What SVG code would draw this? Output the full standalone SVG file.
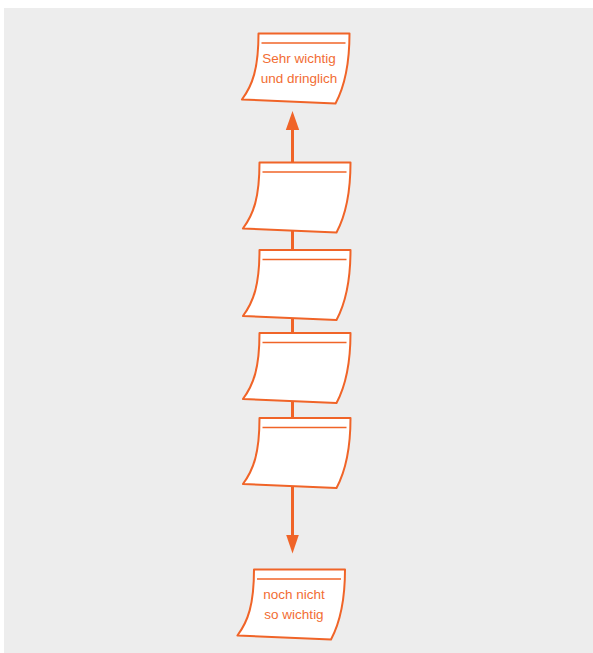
<svg xmlns="http://www.w3.org/2000/svg" xmlns:xlink="http://www.w3.org/1999/xlink" width="593" height="653" viewBox="0 0 593 653">
  <style>
    .sheet { fill: #ffffff; stroke: #f06428; stroke-width: 2; stroke-linejoin: round; }
    .rule { stroke: #f06428; stroke-width: 1.4; }
    .link { stroke: #f06428; stroke-width: 3; fill: none; }
    .head { fill: #f06428; }
    .label { font-family: "Liberation Sans", Arial, sans-serif; font-size: 13.5px; fill: #f26d33; text-anchor: middle; }
  </style>
  <defs>
    <!-- curled sticky note, origin at its top-left corner -->
    <g id="note">
      <path class="sheet" d="M0,0 L91,0 C91,35 85,55 77,70 L-16.6,66 C-6,52 0,35 0,0 Z"/>
      <line class="rule" x1="3" y1="9.5" x2="87" y2="9.5"/>
    </g>
  </defs>

  <rect x="4" y="8" width="589" height="645" fill="#ededed"/>

  <g id="connectors">
    <line class="link" x1="292.5" y1="126" x2="292.5" y2="538"/>
    <polygon class="head" points="292.5,111 285.8,130 299.2,130"/>
    <polygon class="head" points="292.5,553.5 286.2,535 298.8,535"/>
  </g>

  <g id="node-top">
    <use xlink:href="#note" transform="translate(258.5,33.5)"/>
    <text class="label" x="299" y="63">Sehr wichtig</text>
    <text class="label" x="299" y="83">und dringlich</text>
  </g>
  <g id="node-2"><use xlink:href="#note" transform="translate(259.5,162.5)"/></g>
  <g id="node-3"><use xlink:href="#note" transform="translate(259.5,250)"/></g>
  <g id="node-4"><use xlink:href="#note" transform="translate(259.5,333)"/></g>
  <g id="node-5"><use xlink:href="#note" transform="translate(259.5,418)"/></g>
  <g id="node-bottom">
    <use xlink:href="#note" transform="translate(254,569.5)"/>
    <text class="label" x="294" y="599">noch nicht</text>
    <text class="label" x="294" y="619">so wichtig</text>
  </g>
</svg>
